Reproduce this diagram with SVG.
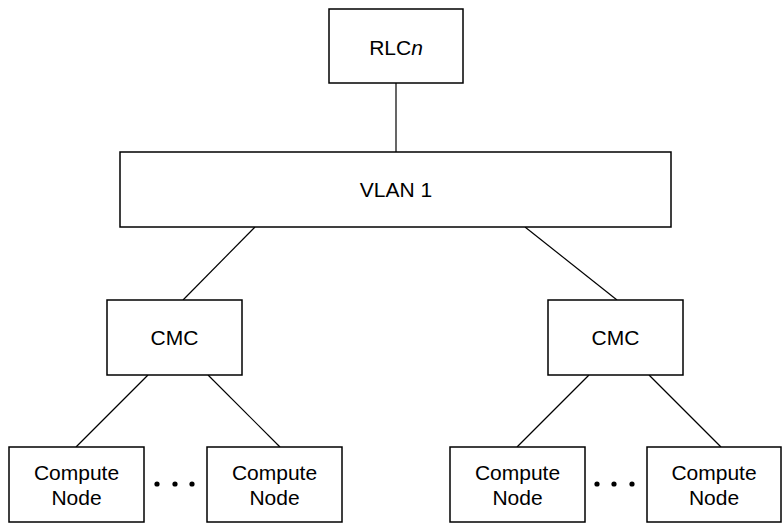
<svg xmlns="http://www.w3.org/2000/svg" width="782" height="523" viewBox="0 0 782 523">
<style>
.box{fill:#fff;stroke:#000;stroke-width:1.5}
.t{font-family:"Liberation Sans",Arial,sans-serif;font-size:21px;fill:#000;text-anchor:middle}
.c line{stroke:#000;stroke-width:1.2}
.dot{fill:#000}
</style>
<rect width="782" height="523" fill="#fff"/>
<g class="c" id="connectors">
<line x1="396" y1="83" x2="396" y2="152"/>
<line x1="255" y1="227" x2="183" y2="300"/>
<line x1="525" y1="227" x2="617" y2="300"/>
<line x1="148" y1="375" x2="76" y2="447"/>
<line x1="208" y1="375" x2="280" y2="447"/>
<line x1="589" y1="375" x2="517" y2="447"/>
<line x1="649" y1="375" x2="721" y2="447"/>
</g>
<g id="rlc"><rect class="box" x="329" y="9" width="134" height="74"/><text class="t" x="396" y="55">RLC<tspan font-style="italic">n</tspan></text></g>
<g id="vlan"><rect class="box" x="120" y="152" width="551" height="75"/><text class="t" x="396" y="197">VLAN 1</text></g>
<g id="cmc1"><rect class="box" x="107" y="300" width="135" height="75"/><text class="t" x="174.5" y="345">CMC</text></g>
<g id="cmc2"><rect class="box" x="548" y="300" width="135" height="75"/><text class="t" x="615.5" y="345">CMC</text></g>
<g id="cn1"><rect class="box" x="9" y="447" width="135" height="75"/><text class="t" x="76.5" y="480">Compute</text><text class="t" x="76.5" y="505">Node</text></g>
<g id="cn2"><rect class="box" x="207" y="447" width="135" height="75"/><text class="t" x="274.5" y="480">Compute</text><text class="t" x="274.5" y="505">Node</text></g>
<g id="cn3"><rect class="box" x="450" y="447" width="135" height="75"/><text class="t" x="517.5" y="480">Compute</text><text class="t" x="517.5" y="505">Node</text></g>
<g id="cn4"><rect class="box" x="647" y="447" width="134" height="75"/><text class="t" x="714" y="480">Compute</text><text class="t" x="714" y="505">Node</text></g>
<g id="dots1"><circle class="dot" cx="157" cy="484" r="2.6"/><circle class="dot" cx="175" cy="484" r="2.6"/><circle class="dot" cx="192" cy="484" r="2.6"/></g>
<g id="dots2"><circle class="dot" cx="597" cy="484" r="2.6"/><circle class="dot" cx="614" cy="484" r="2.6"/><circle class="dot" cx="632" cy="484" r="2.6"/></g>
</svg>
